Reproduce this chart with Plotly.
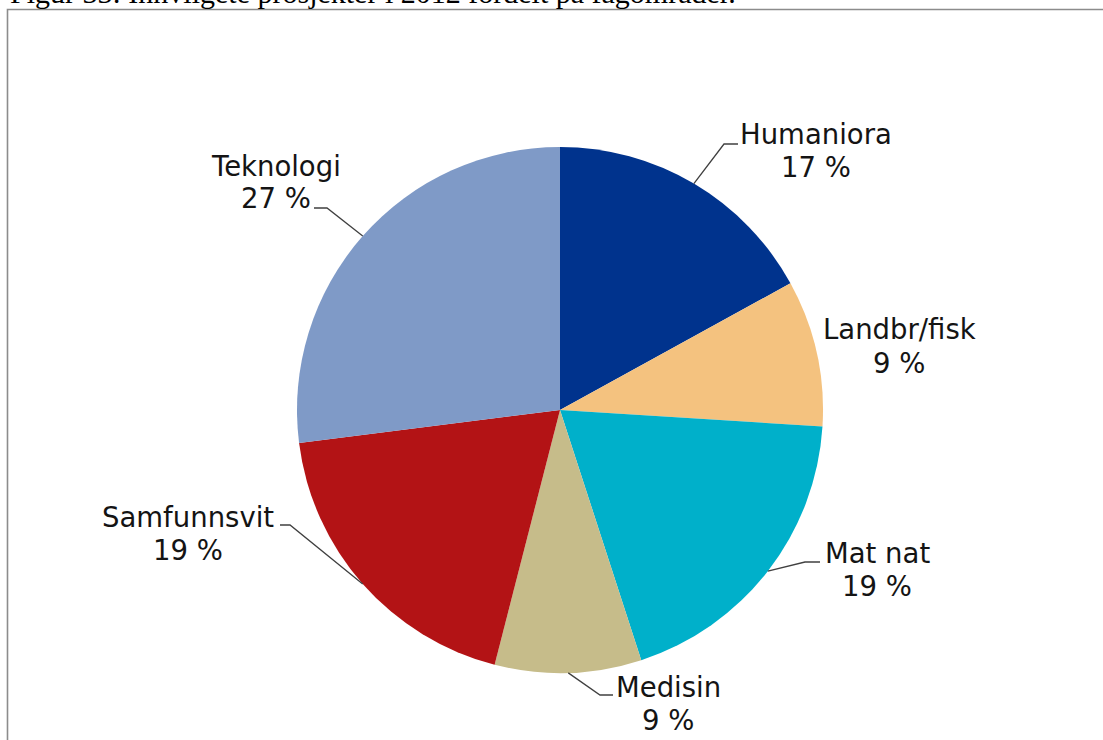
import math
import plotly.graph_objects as go

# Innvilgete prosjekter i 2012 fordelt på fagområder (prosent)
categories = ["Humaniora", "Landbr/fisk", "Mat nat", "Medisin", "Samfunnsvit", "Teknologi"]
shares = [17, 9, 19, 9, 19, 27]
colors = ["#00338D", "#F4C27F", "#00B0CA", "#C6BC8A", "#B31315", "#7F9AC7"]

title_text = "Figur 33: Innvilgete prosjekter i 2012 fordelt på fagområder."

W, H = 1103, 740
# pie geometry in pixels
CX, CY, R = 560, 410, 263
LINE_GAP = 33  # distance between the two label lines, px

# label block centres and leader polylines (elbow, end) in pixels
label_layout = {
    "Humaniora": dict(pos=(816, 151), leader=[(724, 144), (738, 144)]),
    "Landbr/fisk": dict(pos=(899, 346), leader=None),
    "Mat nat": dict(pos=(877, 569), leader=[(805, 562), (820, 562)]),
    "Medisin": dict(pos=(668, 703), leader=[(600, 695), (613, 695)]),
    "Samfunnsvit": dict(pos=(188, 533), leader=[(290, 525), (280, 525)]),
    "Teknologi": dict(pos=(276, 182), leader=[(327, 208), (314, 208)]),
}


def px(x):
    return x / W


def py(y):
    return 1 - y / H


fig = go.Figure(
    go.Pie(
        labels=categories,
        values=shares,
        marker=dict(colors=colors, line=dict(width=0)),
        sort=False,
        direction="clockwise",
        rotation=0,
        textinfo="none",
        hoverinfo="skip",
        showlegend=False,
        domain=dict(x=[px(CX - R), px(CX + R)], y=[py(CY + R), py(CY - R)]),
    )
)

label_font = dict(family="DejaVu Sans", size=27.5, color="#141414")

annotations = []
shapes = []
total = sum(shares)
cum = 0
for cat, val in zip(categories, shares):
    mid = 2 * math.pi * (cum + val / 2) / total
    cum += val
    ex, ey = CX + R * math.sin(mid), CY - R * math.cos(mid)
    cfg = label_layout[cat]
    tx, ty = cfg["pos"]
    for line, dy in ((cat, -LINE_GAP / 2), (f"{val} %", LINE_GAP / 2)):
        annotations.append(dict(
            x=px(tx), y=py(ty + dy), xref="paper", yref="paper",
            text=line, showarrow=False,
            xanchor="center", yanchor="middle", align="center",
            font=label_font,
        ))
    if cfg["leader"]:
        pts = [(ex, ey)] + cfg["leader"]
        path = "M " + " L ".join(f"{px(x):.5f},{py(y):.5f}" for x, y in pts)
        shapes.append(dict(type="path", xref="paper", yref="paper", path=path,
                           line=dict(color="#404040", width=1.3)))

# frame around the chart area
shapes.append(dict(type="rect", xref="paper", yref="paper",
                   x0=px(7.5), x1=1.02, y0=-0.02, y1=py(9.5),
                   line=dict(color="#8c8c8c", width=1.6), fillcolor="rgba(0,0,0,0)"))

# caption above the frame
annotations.append(dict(
    x=px(8), y=1 + 7 / H, xref="paper", yref="paper",
    text=title_text, showarrow=False, xanchor="left", yanchor="middle",
    font=dict(family="Liberation Serif", size=30, color="#000000"),
))

fig.update_layout(
    width=W, height=H,
    margin=dict(l=0, r=0, t=0, b=0),
    paper_bgcolor="white", plot_bgcolor="white",
    annotations=annotations, shapes=shapes,
)

fig.write_html("out.html")
